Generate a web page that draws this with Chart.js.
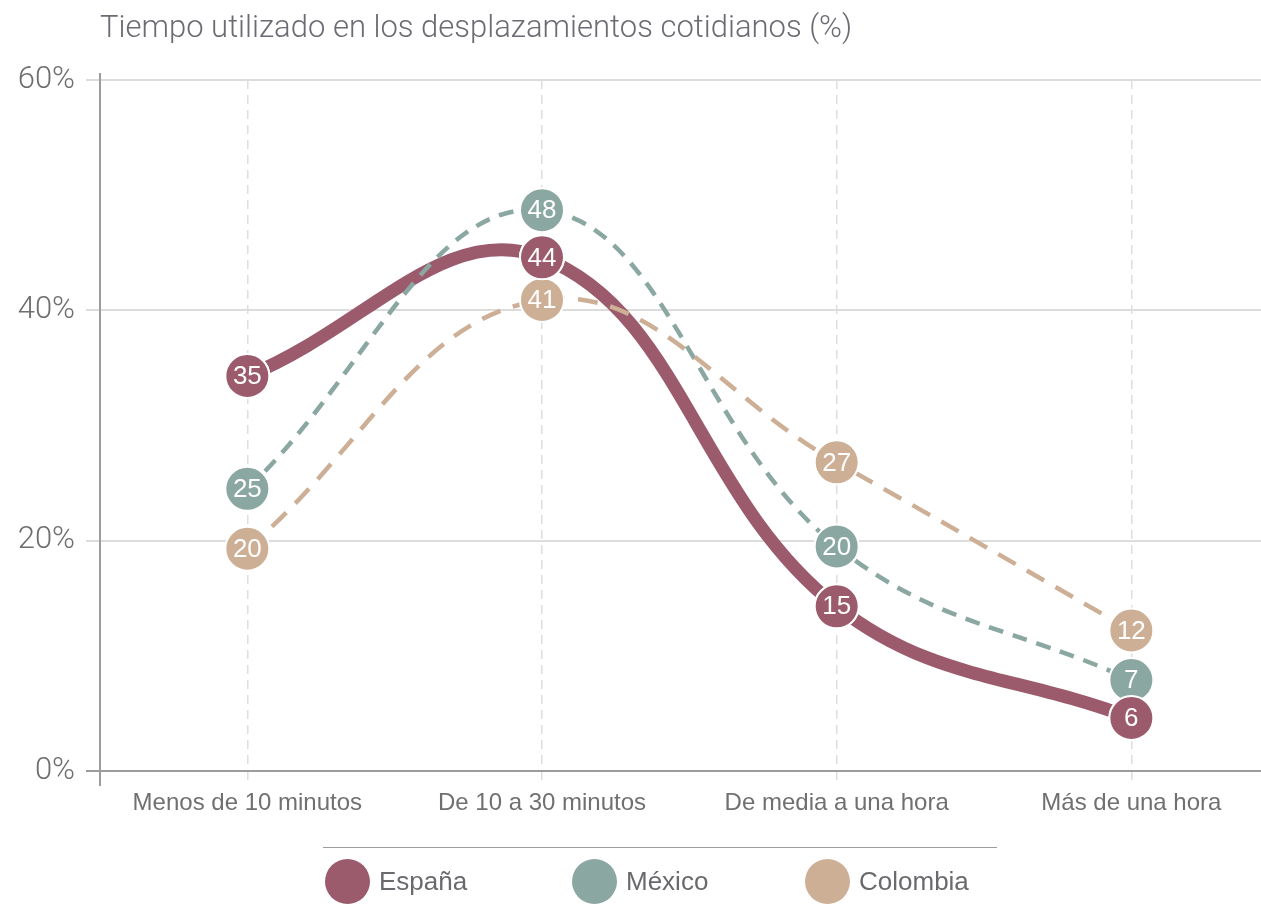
<!DOCTYPE html>
<html><head><meta charset="utf-8">
<script src="https://cdn.jsdelivr.net/npm/chart.js@4.4.1/dist/chart.umd.min.js"></script>
<style>
html,body{margin:0;padding:0;background:#fff;}
#wrap{position:relative;width:1261px;height:909px;overflow:hidden;}
#c{position:absolute;left:0;top:0;}
#title{position:absolute;left:100px;top:8px;font:300 31px Roboto, sans-serif;color:#6b6b73;white-space:nowrap;}
#legline{position:absolute;left:323px;top:847px;width:674px;height:0;border-top:1px solid #9d9d9d;}
.li{position:absolute;top:859px;height:44px;display:flex;align-items:center;font:26px "Liberation Sans",sans-serif;color:#6a6a6e;white-space:nowrap;}
.li .dot{display:inline-block;width:45px;height:45px;border-radius:50%;margin-right:9px;}
</style></head><body>
<div id="wrap"><canvas id="c" width="1261" height="909" style="width:1261px;height:909px"></canvas>
<div id="title">Tiempo utilizado en los desplazamientos cotidianos (%)</div>
<div id="legline"></div><div id="legend"></div></div>
<script>
// ---- data ----
const categories = ['Menos de 10 minutos', 'De 10 a 30 minutos', 'De media a una hora', 'Más de una hora'];
const seriesNames = ['España', 'México', 'Colombia'];
const espana = [34.3, 44.6, 14.3, 4.6];
const mexico = [24.5, 48.7, 19.5, 7.9];
const colombia = [19.3, 40.9, 26.8, 12.2];
const espanaLabels = ['35', '44', '15', '6'];
const mexicoLabels = ['25', '48', '20', '7'];
const colombiaLabels = ['20', '41', '27', '12'];
const yTickValues = [0, 20, 40, 60];

// ---- styles / layout ----
const colors = ['#9b5b6c', '#8ba7a1', '#cdaf96'];
const legendLefts = [325, 572, 805];

const seriesValues = [espana, mexico, colombia];
const seriesLabels = [espanaLabels, mexicoLabels, colombiaLabels];

const toXY = arr => arr.map((v, i) => ({x: i, y: v}));

const datasets = [
  {label: seriesNames[0], data: toXY(espana), borderColor: colors[0], backgroundColor: colors[0],
   borderWidth: 13, tension: 0.4, order: 3, borderCapStyle: 'round',
   pointRadius: 22, pointBackgroundColor: colors[0], pointBorderColor: '#fff', pointBorderWidth: 2},
  {label: seriesNames[1], data: toXY(mexico), borderColor: colors[1], backgroundColor: colors[1],
   borderWidth: 4.5, tension: 0.4, order: 2, borderDash: [15, 10],
   pointRadius: 22, pointBackgroundColor: colors[1], pointBorderColor: '#fff', pointBorderWidth: 2},
  {label: seriesNames[2], data: toXY(colombia), borderColor: colors[2], backgroundColor: colors[2],
   borderWidth: 4.5, tension: 0.4, order: 1, borderDash: [20, 13],
   pointRadius: 22, pointBackgroundColor: colors[2], pointBorderColor: '#fff', pointBorderWidth: 2}
];

const axisLinePlugin = {
  id: 'axisLine',
  beforeDatasetsDraw(chart) {
    const {ctx, chartArea} = chart;
    ctx.save();
    ctx.strokeStyle = '#9c9c9c';
    ctx.lineWidth = 2;
    ctx.beginPath();
    ctx.moveTo(chartArea.left, chartArea.top - 7);
    ctx.lineTo(chartArea.left, chartArea.bottom + 15);
    ctx.stroke();
    ctx.restore();
  }
};

const valueLabelPlugin = {
  id: 'valueLabels',
  afterDatasetsDraw(chart) {
    const {ctx} = chart;
    // España markers on top of the others
    chart.getDatasetMeta(0).data.forEach(el => el.draw(ctx, chart.chartArea));
    ctx.save();
    ctx.fillStyle = '#ffffff';
    ctx.font = '26px "Liberation Sans", Arial, sans-serif';
    ctx.textAlign = 'center';
    ctx.textBaseline = 'middle';
    [2, 1, 0].forEach(di => {
      const meta = chart.getDatasetMeta(di);
      meta.data.forEach((el, i) => {
        ctx.fillText(seriesLabels[di][i], el.x, el.y + 1);
      });
    });
    ctx.restore();
  }
};

function build() {
  new Chart(document.getElementById('c'), {
    type: 'line',
    data: {datasets},
    options: {
      responsive: false,
      animation: false,
      devicePixelRatio: 1,
      layout: {autoPadding: false, padding: {top: 80, bottom: 78, left: 0, right: 0}},
      plugins: {legend: {display: false}, tooltip: {enabled: false}, title: {display: false}},
      scales: {
        x: {
          type: 'linear', min: -0.5, max: 3.44,
          afterBuildTicks: s => { s.ticks = categories.map((c, i) => ({value: i})); },
          afterFit: s => { s.height = 60; s.paddingLeft = 0; s.paddingRight = 0; },
          border: {display: false, dash: [9, 6]},
          grid: {color: '#dedede', lineWidth: 1.5, tickLength: 14, tickBorderDash: [9, 6], tickColor: '#dedede'},
          ticks: {
            callback: v => categories[v],
            autoSkip: false, maxRotation: 0, padding: 4,
            color: '#707070', font: {family: '"Liberation Sans", Arial, sans-serif', size: 24}
          }
        },
        y: {
          min: 0, max: 60,
          afterBuildTicks: s => { s.ticks = yTickValues.map(v => ({value: v})); },
          afterFit: s => { s.width = 100; },
          border: {display: false},
          grid: {
            color: c => c.tick && c.tick.value === 0 ? '#9c9c9c' : '#dcdcdc',
            lineWidth: 2, tickLength: 14
          },
          ticks: {
            callback: v => v + '%',
            padding: 11,
            color: '#6e6e6e', font: {family: 'Roboto, sans-serif', size: 31, weight: 300}
          }
        }
      }
    },
    plugins: [axisLinePlugin, valueLabelPlugin]
  });

  const leg = document.getElementById('legend');
  seriesNames.forEach((n, i) => {
    const d = document.createElement('div');
    d.className = 'li';
    d.style.left = legendLefts[i] + 'px';
    d.innerHTML = '<span class="dot" style="background:' + colors[i] + '"></span>' + n;
    leg.appendChild(d);
  });
}

Promise.all([
  document.fonts.load('300 31px Roboto'),
  document.fonts.load('26px "Liberation Sans"')
]).then(build, build);
</script>
</body></html>
